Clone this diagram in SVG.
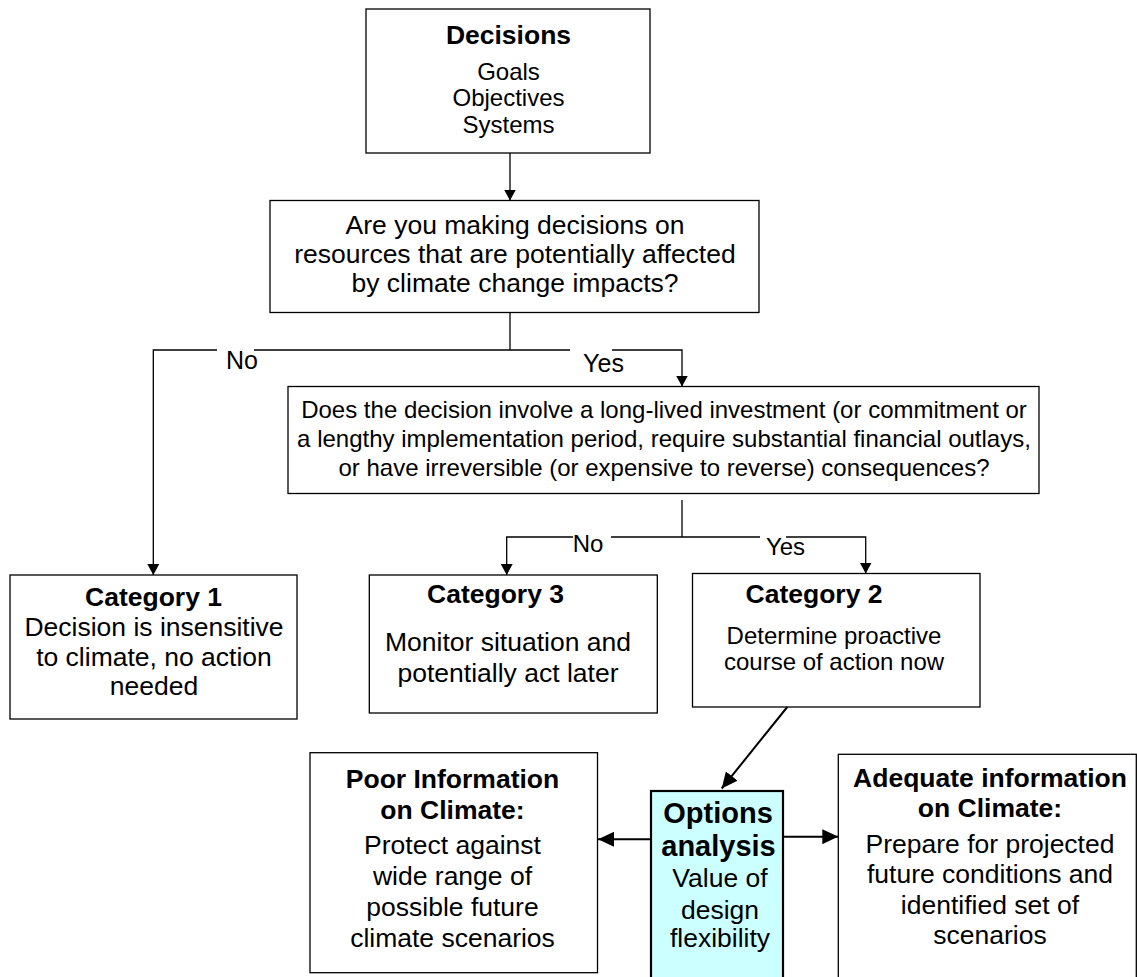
<svg xmlns="http://www.w3.org/2000/svg" width="1137" height="977" viewBox="0 0 1137 977">
<style>
.box{fill:#fff;stroke:#000;stroke-width:1.3}
.opt{fill:#ccffff;stroke:#000;stroke-width:2.2}
.t{font-family:"Liberation Sans",Arial,Helvetica,sans-serif;fill:#000;text-anchor:middle}
.b{font-weight:bold}
.s24{font-size:24px}
.s25{font-size:25px}
.s26{font-size:26.5px}
.s29{font-size:29px}
.c1{fill:none;stroke:#000;stroke-width:1.3}
.c2{fill:none;stroke:#000;stroke-width:2}
.gap{fill:#fff;stroke:none}
</style>
<defs>
<marker id="ah" viewBox="0 0 11 12" refX="11" refY="6" markerWidth="11" markerHeight="12" markerUnits="userSpaceOnUse" orient="auto"><path d="M0,0 L11,6 L0,12 z" fill="#000"/></marker>
<marker id="ahb" viewBox="0 0 16 15" refX="16" refY="7.5" markerWidth="16" markerHeight="15" markerUnits="userSpaceOnUse" orient="auto"><path d="M0,0 L16,7.5 L0,15 z" fill="#000"/></marker>
</defs>
<rect width="1137" height="977" fill="#fff"/>

<g id="decisions">
<rect class="box" x="366" y="9" width="284" height="144"/>
<text class="t b s26" x="508.5" y="44">Decisions</text>
<text class="t s24" x="508.5" y="80">Goals</text>
<text class="t s24" x="508.5" y="106">Objectives</text>
<text class="t s24" x="508.5" y="132.7">Systems</text>
</g>

<g id="question1">
<rect class="box" x="270" y="200.5" width="489" height="112"/>
<text class="t s26" x="515" y="234.3">Are you making decisions on</text>
<text class="t s26" x="515" y="263.3">resources that are potentially affected</text>
<text class="t s26" x="515" y="292.3">by climate change impacts?</text>
</g>

<g id="question2">
<rect class="box" x="288" y="386.5" width="751" height="107"/>
<text class="t s24" x="664" y="418.3">Does the decision involve a long-lived investment (or commitment or</text>
<text class="t s24" x="664" y="447">a lengthy implementation period, require substantial financial outlays,</text>
<text class="t s24" x="664" y="476">or have irreversible (or expensive to reverse) consequences?</text>
</g>

<g id="category1">
<rect class="box" x="10" y="575" width="287" height="144"/>
<text class="t b s26" x="153.5" y="605.7">Category 1</text>
<text class="t s26" x="154" y="635.7">Decision is insensitive</text>
<text class="t s26" x="154" y="666">to climate, no action</text>
<text class="t s26" x="154" y="695">needed</text>
</g>

<g id="category3">
<rect class="box" x="369.3" y="575" width="288" height="138"/>
<text class="t b s26" x="495.5" y="603.3">Category 3</text>
<text class="t s26" x="508" y="650.7">Monitor situation and</text>
<text class="t s26" x="508" y="681.7">potentially act later</text>
</g>

<g id="category2">
<rect class="box" x="692.5" y="573.5" width="287.5" height="133.5"/>
<text class="t b s26" x="814" y="602.7">Category 2</text>
<text class="t s24" x="834" y="644">Determine proactive</text>
<text class="t s24" x="834" y="670">course of action now</text>
</g>

<g id="poor-info">
<rect class="box" x="310" y="752.7" width="287.5" height="220"/>
<text class="t b s26" x="452.5" y="788.3">Poor Information</text>
<text class="t b s26" x="452.5" y="819.3">on Climate:</text>
<text class="t s26" x="452.5" y="854">Protect against</text>
<text class="t s26" x="452.5" y="885">wide range of</text>
<text class="t s26" x="452.5" y="916">possible future</text>
<text class="t s26" x="452.5" y="946.7">climate scenarios</text>
</g>

<g id="options">
<rect class="opt" x="651" y="791" width="132" height="200"/>
<text class="t b s29" x="718" y="822.7">Options</text>
<text class="t b s29" x="718.5" y="856">analysis</text>
<text class="t s26" x="720" y="887.3">Value of</text>
<text class="t s26" x="720" y="919.3">design</text>
<text class="t s26" x="720" y="947.3">flexibility</text>
</g>

<g id="adequate-info">
<rect class="box" x="838.3" y="754.3" width="298" height="240"/>
<text class="t b s26" x="990" y="786.7">Adequate information</text>
<text class="t b s26" x="990" y="816.7">on Climate:</text>
<text class="t s26" x="990" y="853.3">Prepare for projected</text>
<text class="t s26" x="990" y="883.3">future conditions and</text>
<text class="t s26" x="990" y="914">identified set of</text>
<text class="t s26" x="990" y="944.3">scenarios</text>
</g>

<g id="connectors">
<path class="c1" d="M510,153 V200.5" marker-end="url(#ah)"/>
<path class="c1" d="M510,312.5 V350"/>
<path class="c1" d="M510,350 H153.3 V575" marker-end="url(#ah)"/>
<path class="c1" d="M510,350 H682 V386.5" marker-end="url(#ah)"/>
<rect class="gap" x="217" y="347" width="37" height="6"/>
<text class="t s25" x="242" y="369">No</text>
<rect class="gap" x="570" y="347" width="42" height="6"/>
<text class="t s25" x="603.5" y="372">Yes</text>
<path class="c1" d="M682,500 V537"/>
<path class="c1" d="M682,537 H506.7 V575" marker-end="url(#ah)"/>
<path class="c1" d="M682,537 H865.7 V573.5" marker-end="url(#ah)"/>
<rect class="gap" x="573" y="534" width="38" height="6"/>
<text class="t s24" x="588" y="551.7">No</text>
<rect class="gap" x="760" y="534" width="26" height="6"/>
<text class="t s24" x="785.5" y="555">Yes</text>
<path class="c2" d="M787.3,707 L721.7,788.5" marker-end="url(#ahb)"/>
<path class="c2" d="M651,839.3 H598" marker-end="url(#ahb)"/>
<path class="c2" d="M783,836.7 H838.3" marker-end="url(#ahb)"/>
</g>
</svg>
